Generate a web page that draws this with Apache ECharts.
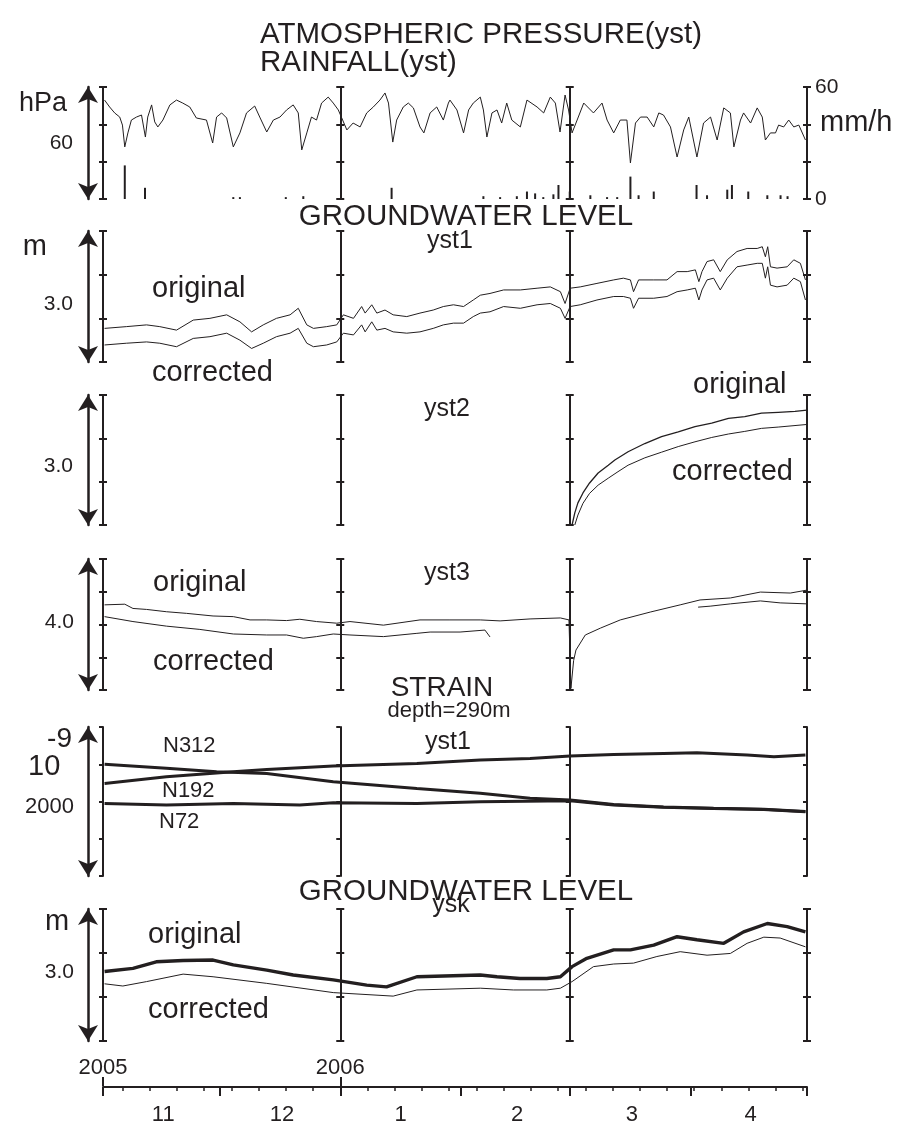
<!DOCTYPE html>
<html>
<head>
<meta charset="utf-8">
<title>Atmospheric pressure, rainfall, groundwater level and strain (yst, ysk)</title>
<script src="https://cdn.jsdelivr.net/npm/echarts@6.0.0/dist/echarts.min.js"></script>
<style>
  html, body { margin: 0; padding: 0; background: #fff; }
  #chart { width: 899px; height: 1127px; }
</style>
</head>
<body>
<div id="chart"></div>
<script>
// ---- time axis: day number counted from 2005-11-01 ----
const DAY_SPAN = 181;                                   // 2005-11-01 .. 2006-05-01
const frameDays = [0, 61, 120, 181];                    // Nov 1, Jan 1, Mar 1, May 1
const monthStartDays = [0, 30, 61, 92, 120, 151, 181];
const monthMidDays = [15.5, 46, 76.5, 106.5, 136, 166.5];
const monthLabels = ['11', '12', '1', '2', '3', '4'];
const sundayDays = [5, 12, 19, 26, 33, 40, 47, 54, 61, 68, 75, 82, 89, 96, 103, 110, 117, 124, 131, 138, 145, 152, 159, 166, 173, 180];
const yearDays = [0, 61];
const yearLabels = ['2005', '2006'];

// ---- atmospheric pressure at yst [day, hPa] ----
const pressure = [
  [0.4,1033.0],[1.7,1029.3],[3.0,1026.1],[4.3,1023.9],[5.0,1019.6],[5.6,1007.9],[6.4,1015.4],[7.3,1022.3],
  [8.6,1023.9],[9.9,1025.0],[10.9,1013.2],[11.5,1023.9],[12.5,1030.4],[13.3,1021.3],[14.1,1018.6],[15.4,1022.3],
  [17.2,1030.4],[18.9,1033.0],[20.5,1031.4],[22.3,1029.3],[24.0,1023.4],[26.6,1022.3],[28.2,1010.0],[29.2,1023.9],
  [30.5,1026.1],[31.8,1023.4],[33.5,1007.9],[35.2,1015.4],[36.9,1026.1],[39.0,1029.8],[40.3,1023.9],[42.1,1015.9],
  [43.8,1022.3],[45.5,1023.9],[47.2,1027.7],[48.9,1030.4],[50.2,1026.1],[51.1,1006.3],[52.4,1015.4],[53.6,1023.9],
  [54.9,1022.3],[56.2,1031.4],[57.9,1034.6],[59.2,1031.4],[60.5,1027.7],[62.7,1017.0],[64.3,1020.7],[66.1,1018.6],
  [67.8,1026.1],[69.5,1029.3],[71.2,1033.0],[72.5,1036.8],[73.4,1031.4],[74.5,1010.5],[75.5,1022.3],[77.2,1029.3],
  [78.5,1031.4],[79.8,1028.8],[81.5,1018.6],[82.5,1015.4],[84.1,1026.1],[85.8,1029.3],[87.5,1022.3],[88.8,1031.4],
  [89.2,1033.0],[91.0,1027.7],[92.7,1015.4],[94.0,1027.7],[95.2,1031.4],[97.0,1034.6],[97.8,1027.7],[98.7,1013.2],
  [100.0,1026.1],[101.3,1027.7],[102.5,1020.7],[103.8,1031.4],[105.1,1022.3],[107.3,1018.6],[109.0,1033.0],[111.6,1029.3],
  [113.3,1026.1],[115.0,1034.6],[116.3,1031.4],[117.5,1015.9],[118.8,1035.7],[119.7,1027.7],[120.6,1015.4],[121.9,1022.3],
  [123.6,1031.4],[126.1,1026.1],[128.3,1031.4],[129.6,1022.3],[131.3,1015.4],[133.0,1022.3],[134.7,1022.3],[135.6,999.3],
  [136.9,1020.7],[138.2,1023.9],[139.9,1023.9],[141.6,1018.6],[142.9,1026.1],[144.1,1025.0],[145.9,1018.6],[147.6,1002.5],
  [149.3,1017.0],[150.6,1023.9],[152.7,1002.5],[154.4,1020.7],[156.2,1023.9],[157.9,1011.6],[159.6,1028.8],[161.3,1026.1],
  [162.2,1007.9],[163.9,1022.3],[164.7,1026.1],[166.5,1020.7],[168.2,1028.8],[169.5,1023.9],[170.3,1011.6],[171.6,1015.4],
  [172.9,1015.4],[173.7,1019.6],[175.0,1018.6],[176.3,1022.3],[177.6,1018.6],[178.9,1019.6],[180.6,1011.6]
];

// ---- rainfall at yst [mm/h] ----
const rainDays = [5.6, 10.8, 33.5, 35.2, 47.0, 51.5, 74.2, 97.8, 102.1, 106.4, 109.0, 111.1, 113.2, 115.8, 117.1,
  120.0, 125.3, 129.6, 132.2, 135.6, 137.7, 141.6, 152.6, 155.3, 160.5, 161.7, 165.9, 170.8, 174.2, 176.0];
const rainMm = [18, 6, 1, 1, 1, 1.5, 6, 1.5, 1, 1.5, 4, 3, 1, 2.5, 7.5,
  4, 2, 1, 1, 12, 2, 4, 7.5, 2, 5, 7.5, 4, 2, 2, 1.5];

// ---- groundwater level yst1 [m] ----
const yst1Days = [0.4, 6.0, 11.2, 14.6, 18.9, 23.2, 27.5, 31.8, 35.2, 38.2, 41.2, 44.6, 48.1, 50.2, 52.4, 54.1, 57.5,
  60.1, 61.8, 64.4, 66.5, 67.4, 69.1, 70.4, 72.5, 74.6, 78.1, 81.5, 84.9, 87.5, 90.1, 92.7, 95.2,
  97.0, 99.5, 103.0, 107.3, 111.6, 115.0, 117.6, 118.8, 120.1, 122.7, 127.0, 131.3, 133.8, 135.6, 136.4, 137.7,
  141.6, 145.0, 147.6, 150.2, 152.3, 153.2, 154.0, 155.3, 157.0, 158.7, 160.5, 163.0, 165.6, 168.2, 169.5,
  170.3, 170.9, 171.6, 173.3, 175.9, 177.6, 179.3, 180.6];
const yst1Original = [0.77, 0.81, 0.85, 0.81, 0.73, 0.96, 1.0, 1.08, 0.92, 0.69, 0.85, 1.0, 1.08, 1.23, 0.85, 0.77, 0.81,
  0.85, 1.08, 1.0, 1.27, 1.12, 1.31, 1.12, 1.19, 1.08, 1.04, 1.12, 1.19, 1.27, 1.31, 1.27, 1.42,
  1.53, 1.57, 1.65, 1.65, 1.69, 1.72, 1.61, 1.34, 1.69, 1.72, 1.80, 1.88, 1.92, 1.88, 1.61, 1.88,
  1.88, 1.88, 2.07, 2.07, 2.11, 1.84, 2.07, 2.30, 2.34, 2.07, 2.34, 2.53, 2.60, 2.60, 2.64,
  2.41, 2.64, 2.18, 2.15, 2.18, 2.34, 2.26, 1.88];
const yst1Corrected = [0.39, 0.43, 0.46, 0.43, 0.35, 0.54, 0.58, 0.66, 0.50, 0.31, 0.43, 0.58, 0.66, 0.77, 0.43, 0.35, 0.39,
  0.46, 0.66, 0.62, 0.85, 0.69, 0.92, 0.73, 0.77, 0.69, 0.66, 0.69, 0.77, 0.85, 0.89, 0.89, 1.04,
  1.12, 1.15, 1.27, 1.23, 1.31, 1.34, 1.23, 1.0, 1.27, 1.31, 1.42, 1.50, 1.50, 1.46, 1.23, 1.46,
  1.46, 1.50, 1.61, 1.65, 1.69, 1.42, 1.65, 1.88, 1.92, 1.65, 1.92, 2.18, 2.22, 2.26, 2.26,
  1.92, 2.18, 1.76, 1.72, 1.76, 1.92, 1.84, 1.42];

// ---- groundwater level yst2 [day, m] (record starts 2006-03-01) ----
const yst2Original = [[120.6,0],[121.3,0.28],[122.1,0.51],[123.4,0.74],[125.1,0.97],[127.3,1.2],[129.9,1.38],
  [131.6,1.5],[135.0,1.69],[139.3,1.88],[143.6,2.04],[147.9,2.15],[152.2,2.27],[156.5,2.35],[160.8,2.46],
  [165.0,2.50],[169.3,2.58],[173.6,2.60],[177.9,2.62],[181,2.65]];
const yst2Corrected = [[121.3,0],[122.1,0.23],[123.4,0.5],[125.1,0.73],[127.3,0.92],[129.9,1.08],[132.4,1.23],
  [135.0,1.38],[139.3,1.55],[143.6,1.68],[147.9,1.81],[152.2,1.92],[156.5,2.02],[160.8,2.1],[165.0,2.16],
  [169.3,2.23],[173.6,2.26],[181,2.32]];

// ---- groundwater level yst3 [day, m] ----
const yst3Original = [[0.4,2.60],[5.6,2.62],[7.7,2.49],[11.2,2.46],[16.3,2.39],[21.5,2.34],[28.3,2.26],[33.5,2.24],
  [37.8,2.14],[42.1,2.14],[47.2,2.12],[50.6,2.16],[54.9,2.09],[60.1,2.04],[63.5,2.09],[72.1,1.98],[81.5,2.14],
  [89.2,2.14],[97.0,2.14],[102.1,2.11],[109.8,2.17],[117.6,2.20],[119.8,2.14],[120.3,0.05],[121.0,0.9],[121.6,1.22],
  [124.0,1.68],[127.9,1.89],[133.0,2.14],[140.7,2.38],[148.4,2.60],[153.5,2.75],[161.3,2.81],[169.0,2.99],
  [176.7,2.96],[181,3.05]];
const yst3CorrectedWinter = [[0.4,2.24],[7.7,2.09],[16.3,1.95],[24.9,1.85],[33.5,1.71],[42.1,1.68],[47.2,1.68],
  [51.5,1.58],[54.9,1.63],[59.2,1.71],[63.5,1.68],[72.1,1.63],[80.7,1.73],[84.1,1.77],[91.8,1.77],[98.2,1.83],[99.5,1.62]];
const yst3CorrectedSpring = [[153.0,2.53],[156.1,2.56],[161.3,2.63],[169.0,2.72],[174.1,2.66],[181,2.63]];

// ---- strain at yst1, depth 290 m [day, 1e-9] ----
const strainN312 = [[0.4,1500],[16.3,1445],[29.2,1400],[42.1,1375],[59.2,1265],[80.7,1176],[97.0,1110],[109.8,1043],
  [120.1,1020],[131.3,960],[144.1,925],[157.0,908],[169.9,895],[180.6,865]];
const strainN192 = [[0.4,1243],[16.3,1331],[33.5,1398],[42.1,1430],[59.2,1476],[80.7,1510],[97.0,1557],[109.8,1577],
  [120.1,1610],[131.3,1631],[144.1,1644],[152.7,1653],[165.6,1624],[172.5,1601],[180.6,1624]];
const strainN72 = [[0.4,974],[16.3,953],[33.5,974],[50.6,953],[59.2,984],[80.7,974],[97.0,996],[120.1,1010],
  [131.3,953],[144.1,922],[157.0,906],[169.9,893],[180.6,862]];

// ---- groundwater level ysk [day, m] ----
const yskOriginal = [[0.4,1.58],[7.7,1.65],[13.7,1.80],[20.6,1.83],[28.3,1.84],[33.5,1.73],[42.1,1.61],[48.9,1.50],
  [59.2,1.39],[67.8,1.27],[72.9,1.23],[80.7,1.46],[97.0,1.50],[101.3,1.46],[107.2,1.42],[114.1,1.42],[117.6,1.46],
  [120.6,1.69],[124.4,1.88],[131.3,2.07],[135.6,2.07],[141.6,2.18],[147.6,2.37],[152.7,2.30],[159.6,2.22],
  [164.7,2.48],[170.8,2.67],[175.9,2.60],[180.6,2.48]];
const yskCorrected = [[0.4,1.30],[5.1,1.25],[11.2,1.35],[20.6,1.52],[28.3,1.46],[42.1,1.31],[59.2,1.10],[74.6,1.02],
  [80.7,1.16],[97.0,1.20],[105.5,1.16],[114.1,1.16],[117.6,1.20],[120.6,1.35],[126.1,1.69],[131.3,1.75],[136.4,1.77],
  [142.4,1.92],[148.4,2.03],[155.3,1.95],[161.3,1.99],[165.6,2.22],[169.9,2.36],[174.1,2.34],[180.6,2.14]];

// ---- layout ----
const INK = '#231f20';
const FONT = '"Liberation Sans", Arial, Helvetica, sans-serif';
const GRID_LEFT = 103, GRID_WIDTH = 704;

// one strip per recorded quantity; the scale arrow spans the whole strip
const panels = [
  { top: 87,  height: 112, min: 980, max: 1040, interval: 20,  ticks: 'both' },   // pressure, 60 hPa
  { top: 231, height: 131, min: 0,   max: 3,    interval: 1,   ticks: 'both' },   // yst1, 3.0 m
  { top: 395, height: 130, min: 0,   max: 3,    interval: 1,   ticks: 'both' },   // yst2, 3.0 m
  { top: 559, height: 131, min: 0,   max: 4,    interval: 1,   ticks: 'both' },   // yst3, 4.0 m
  { top: 727, height: 149, min: 0,   max: 2000, interval: 500, ticks: 'left' },   // strain, 2000e-9
  { top: 909, height: 132, min: 0,   max: 3,    interval: 1,   ticks: 'both' }    // ysk, 3.0 m
];
const TIME_GRID = panels.length;

const grids = panels.map(p => ({ left: GRID_LEFT, width: GRID_WIDTH, top: p.top, height: p.height, outerBoundsMode: 'none' }));
grids.push({ left: GRID_LEFT, width: GRID_WIDTH, top: 1086, height: 1, outerBoundsMode: 'none' });

const xAxes = panels.map((p, g) => ({
  gridIndex: g, type: 'value', min: 0, max: DAY_SPAN, show: false,
  axisLine: { onZero: false }
}));

const yAxes = [];
const dataAxisOf = [];
panels.forEach((p, g) => {
  const scale = { gridIndex: g, type: 'value', min: p.min, max: p.max, interval: p.interval };
  dataAxisOf[g] = yAxes.length;
  // vertical frame lines at the month boundaries, ticked on one or both sides
  frameDays.forEach((day, k) => {
    const last = k === frameDays.length - 1;
    const position = last ? 'right' : 'left';
    const offset = last ? 0 : -day / DAY_SPAN * GRID_WIDTH;
    const sides = p.ticks === 'left' ? [last] : [true, false];
    sides.forEach(inside => {
      yAxes.push(Object.assign({}, scale, {
        position, offset,
        axisLine: { show: true, onZero: false, lineStyle: { color: INK, width: 2 } },
        axisTick: { show: true, inside, length: 4, lineStyle: { color: INK, width: 2 } },
        axisLabel: { show: false },
        splitLine: { show: false }
      }));
    });
  });
  // double-headed scale arrow left of the strip
  yAxes.push(Object.assign({}, scale, {
    position: 'left', offset: 15,
    axisLine: {
      show: true, onZero: false, symbol: ['arrow', 'arrow'], symbolSize: [15, 16], symbolOffset: [0, 0],
      lineStyle: { color: INK, width: 2.5 }
    },
    axisTick: { show: false }, axisLabel: { show: false }, splitLine: { show: false }
  }));
});

// rainfall scale on the right of the first strip
const rainAxis = yAxes.length;
yAxes.push({
  gridIndex: 0, type: 'value', position: 'right', min: 0, max: 60, interval: 20,
  axisLine: { show: false, onZero: false }, axisTick: { show: false }, splitLine: { show: false },
  axisLabel: { show: true, customValues: [0, 60], margin: 8, fontSize: 21, fontFamily: FONT, color: INK }
});

// time axis at the bottom
yAxes.push({ gridIndex: TIME_GRID, type: 'value', min: 0, max: 1, show: false, axisLine: { onZero: false } });
xAxes.push(
  {
    gridIndex: TIME_GRID, type: 'value', position: 'bottom', min: 0, max: DAY_SPAN,
    axisLine: { show: true, onZero: false, lineStyle: { color: INK, width: 2 } },
    axisTick: { show: true, customValues: monthStartDays, length: 9, lineStyle: { color: INK, width: 2 } },
    axisLabel: {
      show: true, customValues: monthMidDays, margin: 17, fontSize: 22, fontFamily: FONT, color: INK,
      formatter: v => monthLabels[monthMidDays.indexOf(v)]
    },
    splitLine: { show: false }
  },
  {
    gridIndex: TIME_GRID, type: 'value', position: 'bottom', min: 0, max: DAY_SPAN,
    axisLine: { show: false, onZero: false },
    axisTick: { show: true, customValues: sundayDays, length: 4, lineStyle: { color: INK, width: 1.5 } },
    axisLabel: { show: false }, splitLine: { show: false }
  },
  {
    gridIndex: TIME_GRID, type: 'value', position: 'top', min: 0, max: DAY_SPAN,
    axisLine: { show: false, onZero: false },
    axisTick: { show: true, customValues: yearDays, length: 9, lineStyle: { color: INK, width: 2 } },
    axisLabel: {
      show: true, customValues: yearDays, margin: 7, fontSize: 22, fontFamily: FONT, color: INK,
      formatter: v => yearLabels[yearDays.indexOf(v)]
    },
    splitLine: { show: false }
  }
);

function trace(panel, data, width) {
  return {
    type: 'line', xAxisIndex: panel, yAxisIndex: dataAxisOf[panel], data,
    showSymbol: false, symbol: 'none', silent: true, z: 3,
    lineStyle: { color: INK, width }
  };
}

const series = [
  trace(0, pressure, 1),
  {
    type: 'bar', xAxisIndex: 0, yAxisIndex: rainAxis, barWidth: 2, silent: true,
    itemStyle: { color: INK },
    data: rainDays.map((d, i) => [d, rainMm[i]])
  },
  trace(1, yst1Days.map((d, i) => [d, yst1Original[i]]), 1),
  trace(1, yst1Days.map((d, i) => [d, yst1Corrected[i]]), 1),
  trace(2, yst2Original, 1.3),
  trace(2, yst2Corrected, 1),
  trace(3, yst3Original, 1),
  trace(3, yst3CorrectedWinter, 1),
  trace(3, yst3CorrectedSpring, 1),
  trace(4, strainN312, 3),
  trace(4, strainN192, 3),
  trace(4, strainN72, 3),
  trace(5, yskOriginal, 3.4),
  trace(5, yskCorrected, 1)
];

// titles, units and curve names
const texts = [
  ['ATMOSPHERIC PRESSURE(yst)', 260, 35, 29.5, 'left'],
  ['RAINFALL(yst)', 260, 63, 29.5, 'left'],
  ['hPa', 67, 104, 27, 'right'],
  ['60', 73, 143, 21, 'right'],
  ['mm/h', 820, 123, 29, 'left'],

  ['GROUNDWATER LEVEL', 466, 217, 29.5, 'center'],
  ['yst1', 450, 241, 25, 'center'],
  ['m', 47, 247, 29, 'right'],
  ['3.0', 73, 304, 21, 'right'],
  ['original', 152, 289, 29, 'left'],
  ['corrected', 152, 373, 29, 'left'],

  ['yst2', 447, 409, 25, 'center'],
  ['3.0', 73, 466, 21, 'right'],
  ['original', 693, 385, 29, 'left'],
  ['corrected', 672, 472, 29, 'left'],

  ['yst3', 447, 573, 25, 'center'],
  ['4.0', 74, 622, 21, 'right'],
  ['original', 153, 583, 29, 'left'],
  ['corrected', 153, 662, 29, 'left'],

  ['STRAIN', 442, 688, 28, 'center'],
  ['depth=290m', 449, 711, 22, 'center'],
  ['yst1', 448, 742, 25, 'center'],
  ['-9', 72, 739, 28, 'right'],
  ['10', 28, 767, 29, 'left'],
  ['2000', 74, 807, 22, 'right'],
  ['N312', 163, 746, 22, 'left'],
  ['N192', 162, 791, 22, 'left'],
  ['N72', 159, 822, 22, 'left'],

  ['GROUNDWATER LEVEL', 466, 892, 29.5, 'center'],
  ['ysk', 451, 905, 25, 'center'],
  ['m', 45, 922, 29, 'left'],
  ['3.0', 74, 972, 21, 'right'],
  ['original', 148, 935, 29, 'left'],
  ['corrected', 148, 1010, 29, 'left']
];

const graphic = texts.map(([text, x, y, size, align]) => ({
  type: 'text', x, y, silent: true, z: 10,
  style: { text, fontSize: size, fontFamily: FONT, fill: INK, align, verticalAlign: 'middle' }
}));

const chart = echarts.init(document.getElementById('chart'), null, { renderer: 'canvas' });
chart.setOption({
  backgroundColor: '#ffffff',
  animation: false,
  grid: grids,
  xAxis: xAxes,
  yAxis: yAxes,
  series,
  graphic
});
</script>
</body>
</html>
